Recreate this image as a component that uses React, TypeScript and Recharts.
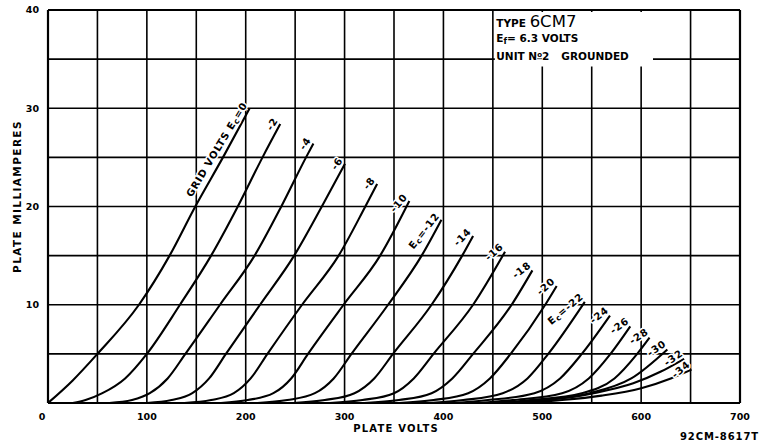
import React from 'react';
import {
  LineChart,
  Line,
  XAxis,
  YAxis,
  CartesianGrid,
  ReferenceArea,
  ReferenceLine,
  LabelList
} from 'recharts';

// plate volts / plate milliamperes (grid bias in the name)
const ec0 = [[0, 0], [25, 2.3], [50, 5], [92, 10], [123, 15], [149, 20], [177, 25], [204, 30]];
const ec2 = [[25, 0], [38, 0.3], [55, 1], [78, 2.5], [100, 5], [133.5, 10], [165, 15], [192, 20], [217, 25], [235, 28.4]];
const ec4 = [[62, 0], [85, 0.3], [103, 1], [121, 2.5], [139, 5], [174, 10], [209, 15], [236, 20], [261, 25], [268.4, 26.4]];
const ec6 = [[100, 0], [125, 0.3], [146, 1], [163, 2.5], [180, 5], [214.5, 10], [249, 15], [277, 20], [300.4, 24.35]];
const ec8 = [[138, 0], [165, 0.3], [188, 1], [205, 2.5], [222, 5], [257, 10], [294, 15], [321, 20], [333, 22.3]];
const ec10 = [[175, 0], [202, 0.3], [228, 1], [246, 2.5], [263, 5], [299, 10], [336, 15], [365.5, 20.55]];
const ec12 = [[212, 0], [242, 0.3], [270, 1], [289, 2.5], [307, 5], [344, 10], [378, 15], [398, 18.65]];
const ec14 = [[248, 0], [280, 0.3], [310, 1], [330, 2.5], [349, 5], [388, 10], [419, 15], [430, 17]];
const ec16 = [[285, 0], [318, 0.3], [350, 1], [370, 2.5], [390, 5], [430, 10], [462.3, 15.4]];
const ec18 = [[320, 0], [355, 0.3], [388, 1], [409, 2.5], [430, 5], [469, 10], [490, 13.5]];
const ec20 = [[355, 0], [390, 0.3], [425, 1], [447, 2.5], [468, 5], [503, 10], [514.5, 11.9]];
const ec22 = [[385, 0], [420, 0.3], [460, 1], [485, 2.5], [506, 5], [543, 10.3]];
const ec24 = [[410, 0], [445, 0.3], [492, 1], [518, 2.5], [540, 5], [568.5, 8.9]];
const ec26 = [[435, 0], [470, 0.3], [520, 1], [547, 2.5], [569, 5], [589, 7.8]];
const ec28 = [[450, 0], [488, 0.3], [540, 1], [573, 2.5], [596, 5], [608.5, 6.65]];
const ec30 = [[460, 0], [498, 0.3], [548, 1], [590, 2.5], [626.5, 5.45]];
const ec32 = [[468, 0], [505, 0.3], [552, 1], [592, 2], [620, 3.2], [643.5, 4.5]];
const ec34 = [[478, 0], [520, 0.3], [560, 0.75], [600, 1.5], [630, 2.5], [651, 3.4]];

const curveData = [ec0, ec2, ec4, ec6, ec8, ec10, ec12, ec14, ec16, ec18, ec20, ec22, ec24, ec26, ec28, ec30, ec32, ec34];
const curveLabels = [
  'GRID VOLTS Ec=0', '-2', '-4', '-6', '-8', '-10', 'Ec=-12', '-14', '-16',
  '-18', '-20', 'Ec=-22', '-24', '-26', '-28', '-30', '-32', '-34'
];
const labelAngles = [59, 58, 57, 57, 53, 50, 52, 46, 41, 38, 42, 40, 38, 36, 33, 34, 35, 40];

const xTicks = [0, 50, 100, 150, 200, 250, 300, 350, 400, 450, 500, 550, 600, 650, 700];
const yTicks = [0, 5, 10, 15, 20, 25, 30, 35, 40];

const FONT = "'DejaVu Sans', Verdana, sans-serif";
const INK = '#000';

const curves = curveData.map((pts, i) => ({
  key: `ec${i * 2}`,
  angle: labelAngles[i],
  data: pts.map(([v, ma], j) => ({ v, ma, lab: j === pts.length - 1 ? curveLabels[i] : undefined }))
}));

// "Ec" written with a small subscript c
function SubText({ text, sub }: { text: string; sub: string }) {
  const i = text.indexOf('E' + sub);
  if (i < 0) return <>{text}</>;
  return (
    <>
      {text.slice(0, i)}E
      <tspan fontSize="0.78em" dy={1.5}>{sub}</tspan>
      <tspan dy={-1.5}>{text.slice(i + 2)}</tspan>
    </>
  );
}

const makeCurveLabel = (angle: number) => (props: any) => {
  const { x, y, value } = props;
  if (value == null || value === '' || x == null) return null;
  const a = (angle * Math.PI) / 180;
  const along = 2;
  const side = 3.5;
  const tx = x + Math.cos(a) * along - Math.sin(a) * side;
  const ty = y - Math.sin(a) * along - Math.cos(a) * side;
  return (
    <text
      transform={`translate(${tx},${ty}) rotate(${-angle})`}
      textAnchor="end"
      fontFamily={FONT}
      fontWeight="bold"
      fontSize={10}
      letterSpacing={0.8}
      fill={INK}
      stroke="#fff"
      strokeWidth={3}
      strokeLinejoin="round"
      paintOrder="stroke"
    >
      <SubText text={String(value)} sub="c" />
    </text>
  );
};

const XTick = (props: any) => {
  const { x, y, payload } = props;
  const v = payload?.value;
  if (v == null || v % 100 !== 0) return <g />;
  return (
    <text x={v === 0 ? x - 6 : x} y={y + 16.5} textAnchor="middle" fontFamily={FONT} fontWeight="bold" fontSize={9.5} fill={INK}>
      {v}
    </text>
  );
};

const XTitle = (props: any) => {
  const vb = props.viewBox || { x: 48, y: 403, width: 692, height: 41 };
  return (
    <g fontFamily={FONT} fontWeight="bold" fill={INK}>
      <text x={vb.x + vb.width * 0.503} y={vb.y + 29} textAnchor="middle" fontSize={10} letterSpacing={1.2}>
        PLATE VOLTS
      </text>
      <text x={vb.x + vb.width + 19} y={vb.y + 37} textAnchor="end" fontSize={10} letterSpacing={0.9}>
        92CM-8617T
      </text>
    </g>
  );
};

const YTitle = (props: any) => {
  const vb = props.viewBox || { x: 0, y: 10, width: 48, height: 393 };
  return (
    <text
      transform={`translate(${vb.x + 21},${vb.y + vb.height / 2 - 10}) rotate(-90)`}
      textAnchor="middle"
      fontFamily={FONT}
      fontWeight="bold"
      fontSize={10.5}
      letterSpacing={1.4}
      fill={INK}
    >
      PLATE MILLIAMPERES
    </text>
  );
};

const BoxText = (props: any) => {
  const { x, y } = props.viewBox;
  return (
    <g fontFamily={FONT} fill={INK}>
      <text x={x + 1.5} y={y + 15.5}>
        <tspan fontSize={10.5} fontWeight="bold">TYPE </tspan>
        <tspan fontSize={16.5}>6CM7</tspan>
      </text>
      <text x={x + 1.5} y={y + 30.5} fontSize={10.5} fontWeight="bold">
        <SubText text="Ef= 6.3 VOLTS" sub="f" />
      </text>
      <text x={x + 1.5} y={y + 48.5} fontSize={10.5} fontWeight="bold">
        UNIT N<tspan fontSize={7} dy={-3} textDecoration="underline">o</tspan>
        <tspan dy={3}>2</tspan>
        <tspan dx={12}>GROUNDED</tspan>
      </text>
    </g>
  );
};

export default function App() {
  return (
    <div style={{ position: 'absolute', left: 0, top: 0, width: 761, height: 444, background: '#fff' }}>
      <LineChart width={761} height={444} margin={{ top: 10, right: 21, bottom: 0, left: 0 }}>
        <CartesianGrid stroke={INK} strokeWidth={1.6} strokeOpacity={1} />
        <XAxis
          type="number"
          dataKey="v"
          domain={[0, 700]}
          ticks={xTicks}
          interval={0}
          height={41}
          tickLine={false}
          tickSize={0}
          tickMargin={0}
          tick={<XTick />}
          axisLine={{ stroke: INK, strokeWidth: 2.2 }}
          allowDataOverflow
          label={<XTitle />}
        />
        <YAxis
          type="number"
          domain={[0, 40]}
          ticks={yTicks}
          interval={0}
          width={48}
          tickLine={false}
          tickSize={0}
          tickMargin={9}
          tick={{ fontSize: 9.5, fontWeight: 'bold', fontFamily: FONT, fill: INK }}
          tickFormatter={(v: number) => (v > 0 && v % 10 === 0 ? String(v) : '')}
          axisLine={{ stroke: INK, strokeWidth: 2.2 }}
          allowDataOverflow
          label={<YTitle />}
        />
        <ReferenceLine x={700} stroke={INK} strokeWidth={2.2} />
        <ReferenceLine y={40} stroke={INK} strokeWidth={2.2} />
        <ReferenceArea
          x1={452}
          x2={612}
          y1={34.25}
          y2={39.8}
          fill="#fff"
          fillOpacity={1}
          stroke="none"
          label={<BoxText />}
        />
        {curves.map((c) => (
          <Line
            key={c.key}
            data={c.data}
            dataKey="ma"
            type="monotone"
            stroke={INK}
            strokeWidth={2.1}
            dot={false}
            activeDot={false}
            isAnimationActive={false}
          >
            <LabelList dataKey="lab" content={makeCurveLabel(c.angle)} />
          </Line>
        ))}
      </LineChart>
    </div>
  );
}
